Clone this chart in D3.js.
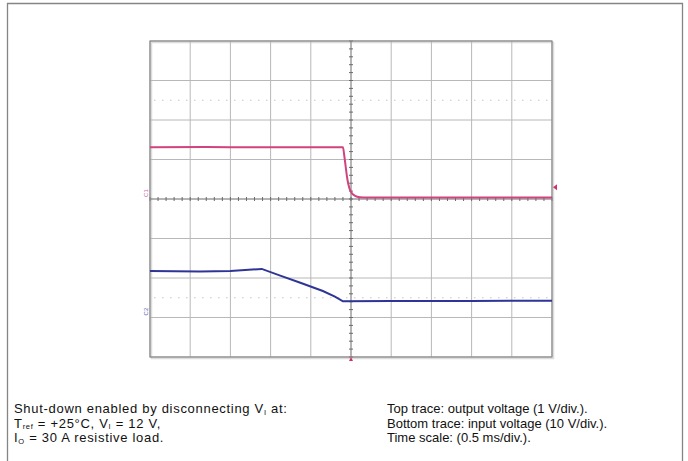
<!DOCTYPE html>
<html><head><meta charset="utf-8">
<script src="https://cdn.jsdelivr.net/npm/d3@7"></script>
<style>html,body{margin:0;padding:0;background:#fff;}svg{display:block;}</style>
</head><body>
<script>
// Time axis (ms), 0.5 ms/div, trigger at centre
const timeDomain = [-2.5, 2.5];
const divDomain = [-4, 4];
const xGridTicks = d3.range(-2.5, 2.5001, 0.5);
const yGridTicks = d3.range(-4, 4.001, 1);
const dottedLevels = [2.5, -2.5];

// Top trace: output voltage (screen divisions, 1 V/div)
const outTime = [-2.5, -1.8, -1.2, -0.6, -0.10, -0.085, -0.065, -0.045, -0.02, 0.01, 0.05, 0.11, 0.2, 0.8, 1.6, 2.5];
const outDiv  = [1.31, 1.315, 1.31, 1.31, 1.31, 1.12, 0.80, 0.50, 0.27, 0.15, 0.08, 0.045, 0.035, 0.035, 0.04, 0.04];

// Bottom trace: input voltage (screen divisions, 10 V/div)
const inTime = [-2.5, -1.88, -1.5, -1.11, -0.88, -0.63, -0.35, -0.2, -0.10, 0.5, 1.5, 2.5];
const inDiv  = [-1.82, -1.835, -1.82, -1.77, -1.94, -2.12, -2.33, -2.47, -2.59, -2.585, -2.58, -2.575];

const leftNotes = [
  [["Shut-down enabled by disconnecting V",""],["I","sub"],[" at:",""]],
  [["T",""],["ref","sub"],[" = +25°C, V",""],["I","sub"],[" = 12 V,",""]],
  [["I",""],["O","sub"],[" = 30 A resistive load.",""]]
];
const rightNotes = [
  "Top trace: output voltage (1 V/div.).",
  "Bottom trace: input voltage (10 V/div.).",
  "Time scale: (0.5 ms/div.)."
];

const W = 688, H = 461;
const svg = d3.select("body").append("svg").attr("width", W).attr("height", H)
  .style("font-family", "'Liberation Sans', Arial, sans-serif");

// outer frame (open at bottom)
svg.append("path").attr("d", `M7.5,${H}V3.5H682.5V${H}`).attr("fill","none")
  .attr("stroke","#858585").attr("stroke-width",1.3);

const x = d3.scaleLinear().domain(timeDomain).range([150, 552]);
const y = d3.scaleLinear().domain(divDomain).range([357, 41]);

const g = svg.append("g");
// shadow
g.append("rect").attr("x",x(-2.5)+1.5).attr("y",y(4)+1.5).attr("width",x(2.5)-x(-2.5)).attr("height",y(-4)-y(4))
  .attr("fill","none").attr("stroke","#dcdcdc").attr("stroke-width",1.5);

// grid
g.selectAll(".vg").data(xGridTicks.filter(d=>Math.abs(d)>1e-9)).join("line")
  .attr("x1",d=>x(d)).attr("x2",d=>x(d)).attr("y1",y(4)).attr("y2",y(-4))
  .attr("stroke","#b8b8b8").attr("stroke-width",1);
g.selectAll(".hg").data(yGridTicks.filter(d=>Math.abs(d)>1e-9)).join("line")
  .attr("y1",d=>y(d)).attr("y2",d=>y(d)).attr("x1",x(-2.5)).attr("x2",x(2.5))
  .attr("stroke","#b8b8b8").attr("stroke-width",1);

// dotted reference lines
g.selectAll(".dl").data(dottedLevels).join("line")
  .attr("y1",d=>y(d)).attr("y2",d=>y(d)).attr("x1",x(-2.5)+4).attr("x2",x(2.5)-4)
  .attr("stroke","#c4c4c4").attr("stroke-width",1).attr("stroke-dasharray","1.5,6.5");

// centre axes with minor ticks
const cx = x(0), cy = y(0);
g.append("line").attr("x1",cx).attr("x2",cx).attr("y1",y(4)).attr("y2",y(-4)).attr("stroke","#6a6a6a");
g.append("line").attr("y1",cy).attr("y2",cy).attr("x1",x(-2.5)).attr("x2",x(2.5)).attr("stroke","#6a6a6a");
const xMinor = d3.range(-2.5, 2.5001, 0.1);
const yMinor = d3.range(-4, 4.001, 0.2);
g.selectAll(".xm").data(xMinor).join("line")
  .attr("x1",d=>x(d)).attr("x2",d=>x(d)).attr("y1",cy-2).attr("y2",cy+2).attr("stroke","#6a6a6a");
g.selectAll(".ym").data(yMinor).join("line")
  .attr("y1",d=>y(d)).attr("y2",d=>y(d)).attr("x1",cx-2).attr("x2",cx+2).attr("stroke","#6a6a6a");

// border
g.append("rect").attr("x",x(-2.5)).attr("y",y(4)).attr("width",x(2.5)-x(-2.5)).attr("height",y(-4)-y(4))
  .attr("fill","none").attr("stroke","#8a8a8a").attr("stroke-width",1.2);

// traces
const line = d3.line().x(d=>x(d[0])).y(d=>y(d[1])).curve(d3.curveMonotoneX);
g.append("path").datum(d3.zip(outTime,outDiv)).attr("d",line)
  .attr("fill","none").attr("stroke","#d0437f").attr("stroke-width",2);
g.append("path").datum(d3.zip(inTime,inDiv)).attr("d",d3.line().x(d=>x(d[0])).y(d=>y(d[1])))
  .attr("fill","none").attr("stroke","#2f3596").attr("stroke-width",2);

// channel markers
svg.append("text").attr("transform",`translate(${x(-2.5)-2},${y(0.15)}) rotate(-90)`)
  .attr("font-size",6).attr("fill","#d060a0").attr("text-anchor","middle").text("C1");
svg.append("text").attr("transform",`translate(${x(-2.5)-2},${y(-2.85)}) rotate(-90)`)
  .attr("font-size",6).attr("fill","#5a5ab0").attr("text-anchor","middle").text("C2");
svg.append("path").attr("d",`M${x(2.5)+1},${y(0.3)}l4,-3v6z`).attr("fill","#d0306e");
svg.append("path").attr("d",`M${cx},${y(-4)}l-2,4h4z`).attr("fill","#d0306e");

// notes
const fs = 13, lh = 14.5;
leftNotes.forEach((parts,i)=>{
  const t = svg.append("text").attr("x",14).attr("y",413+i*lh).attr("font-size",fs)
    .attr("letter-spacing",0.7).attr("fill","#111");
  let shifted = false;
  parts.forEach(([s,k])=>{
    const ts = t.append("tspan").text(s);
    if(k==="sub"){ ts.attr("font-size",7.5).attr("dy",shifted?0:1.8); shifted = true; }
    else if(shifted){ ts.attr("dy",-1.8); shifted = false; }
  });
});
rightNotes.forEach((s,i)=>{
  svg.append("text").attr("x",387).attr("y",413+i*lh).attr("font-size",fs).attr("fill","#111").text(s);
});
</script>
</body></html>
